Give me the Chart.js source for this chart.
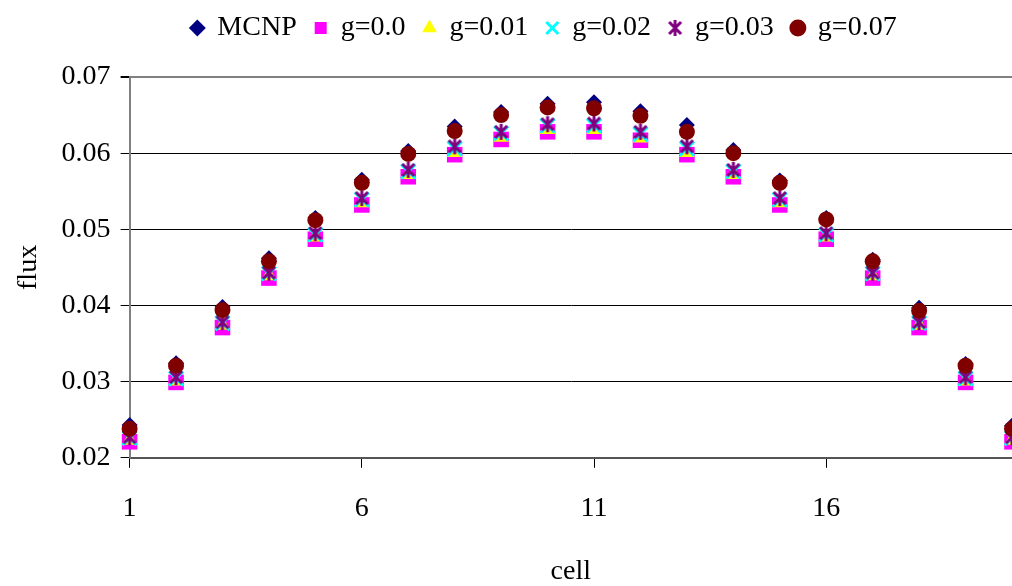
<!DOCTYPE html>
<html>
<head>
<meta charset="utf-8">
<script src="https://cdn.jsdelivr.net/npm/chart.js@4/dist/chart.umd.min.js"></script>
<style>
    html, body { margin: 0; padding: 0; background: #fff; overflow: hidden; }
    #flux-chart { display: block; }
</style>
</head>
<body>
<canvas id="flux-chart" width="1012" height="586"></canvas>
<script>
let cells = [1, 2, 3, 4, 5, 6, 7, 8, 9, 10, 11, 12, 13, 14, 15, 16, 17, 18, 19, 20];
let xTickValues = [1, 6, 11, 16];
let yTickValues = [0.02, 0.03, 0.04, 0.05, 0.06, 0.07];

let mcnp = [0.0243, 0.0324, 0.0398, 0.0462, 0.0515, 0.0565, 0.0603, 0.0635, 0.0654, 0.0665, 0.0667, 0.0655, 0.0637, 0.0604, 0.0564, 0.0515, 0.0460, 0.0397, 0.0323, 0.0242];
let g000 = [0.0221, 0.0299, 0.0371, 0.0436, 0.0487, 0.0532, 0.0569, 0.0598, 0.0618, 0.0628, 0.0628, 0.0617, 0.0598, 0.0569, 0.0532, 0.0487, 0.0436, 0.0371, 0.0299, 0.0221];
let g001 = [0.0223, 0.0301, 0.0374, 0.0439, 0.0490, 0.0535, 0.0572, 0.0601, 0.0621, 0.0631, 0.0631, 0.0620, 0.0601, 0.0572, 0.0535, 0.0490, 0.0439, 0.0374, 0.0301, 0.0223];
let g002 = [0.0226, 0.0304, 0.0377, 0.0442, 0.0493, 0.0539, 0.0576, 0.0606, 0.0626, 0.0636, 0.0636, 0.0625, 0.0606, 0.0576, 0.0539, 0.0493, 0.0442, 0.0377, 0.0304, 0.0226];
let g003 = [0.0227, 0.0306, 0.0378, 0.0443, 0.0495, 0.0541, 0.0578, 0.0609, 0.0628, 0.0638, 0.0639, 0.0628, 0.0609, 0.0578, 0.0541, 0.0495, 0.0443, 0.0378, 0.0306, 0.0227];
let g007 = [0.0238, 0.0321, 0.0394, 0.0458, 0.0512, 0.0561, 0.0599, 0.0629, 0.0650, 0.0660, 0.0659, 0.0649, 0.0628, 0.0600, 0.0561, 0.0513, 0.0458, 0.0393, 0.0321, 0.0238];

// excel-like "star" marker: an X with a vertical bar
function makeStar(color, w, h) {
    let c = document.createElement('canvas');
    c.width = w;
    c.height = h;
    let ctx = c.getContext('2d');
    ctx.strokeStyle = color;
    ctx.lineWidth = 3;
    ctx.beginPath();
    ctx.moveTo(2, 3); ctx.lineTo(w - 2, h - 3);
    ctx.moveTo(w - 2, 3); ctx.lineTo(2, h - 3);
    ctx.moveTo(w / 2, 1); ctx.lineTo(w / 2, h - 1);
    ctx.stroke();
    return c;
}

function points(values) {
    return cells.map((c, i) => ({ x: c, y: values[i] }));
}

function series(label, values, color, style, radius, order) {
    return {
        label: label,
        data: points(values),
        pointStyle: style,
        pointRadius: radius,
        pointHoverRadius: radius,
        backgroundColor: color,
        borderColor: color,
        pointBorderWidth: style === 'crossRot' ? 3 : 0,
        showLine: false,
        clip: false,
        order: order
    };
}

// legend: extra gap under it, and it sits a bit up and right of centre in the original
let legendSpacing = {
    id: 'legendSpacing',
    beforeInit: function (chart) {
        let fit = chart.legend.fit;
        chart.legend.fit = function () {
            fit.bind(chart.legend)();
            this.height += 17;
        };
    },
    afterLayout: function (chart) {
        chart.legend.left += 32;
        chart.legend.right += 32;
        chart.legend.top -= 8;
        chart.legend.bottom -= 8;
    }
};

Chart.defaults.font.family = '"Liberation Serif", "Times New Roman", serif';
Chart.defaults.font.size = 28;
Chart.defaults.color = '#000';

let chart = new Chart(document.getElementById('flux-chart'), {
    type: 'scatter',
    data: {
        datasets: [
            series('MCNP', mcnp, '#000080', 'rectRot', 8, 6),
            series('g=0.0', g000, '#ff00ff', 'rect', 11, 5),
            series('g=0.01', g001, '#ffff00', 'triangle', 9, 4),
            series('g=0.02', g002, '#00ffff', 'crossRot', 10, 3),
            series('g=0.03', g003, '#800080', makeStar('#800080', 16, 18), 8, 2),
            series('g=0.07', g007, '#800000', 'circle', 8, 1)
        ]
    },
    options: {
        responsive: false,
        animation: false,
        devicePixelRatio: 1,
        layout: { autoPadding: false, padding: { top: 4, right: 0, bottom: -2, left: 12 } },
        plugins: {
            tooltip: { enabled: false },
            legend: {
                position: 'top',
                labels: {
                    usePointStyle: true,
                    boxWidth: 12,
                    boxHeight: 12,
                    padding: 18,
                    font: { size: 28 },
                    sort: (a, b) => a.datasetIndex - b.datasetIndex
                }
            }
        },
        scales: {
            x: {
                type: 'linear',
                min: 1,
                max: 20,
                afterBuildTicks: axis => { axis.ticks = xTickValues.map(v => ({ value: v })); },
                border: { color: '#555', width: 2 },
                grid: { drawOnChartArea: false, drawTicks: true, tickLength: 10, tickColor: '#000' },
                ticks: { padding: 24, maxRotation: 0, font: { size: 28 } },
                title: { display: true, text: 'cell', font: { size: 28 }, padding: { top: 5, bottom: 0 } }
            },
            y: {
                min: 0.02,
                max: 0.07,
                afterBuildTicks: axis => { axis.ticks = yTickValues.map(v => ({ value: v })); },
                border: { color: '#808080', width: 2 },
                grid: {
                    color: ctx => ctx.tick && Math.abs(ctx.tick.value - 0.07) < 1e-9 ? '#808080' : '#000',
                    lineWidth: ctx => ctx.tick && Math.abs(ctx.tick.value - 0.07) < 1e-9 ? 2 : 1,
                    tickLength: 9,
                    tickColor: '#000'
                },
                ticks: { padding: 10, font: { size: 28 }, callback: v => v.toFixed(2) },
                title: { display: true, text: 'flux', font: { size: 28 }, padding: { top: 0, bottom: 6 } }
            }
        }
    },
    plugins: [legendSpacing]
});
</script>
</body>
</html>
